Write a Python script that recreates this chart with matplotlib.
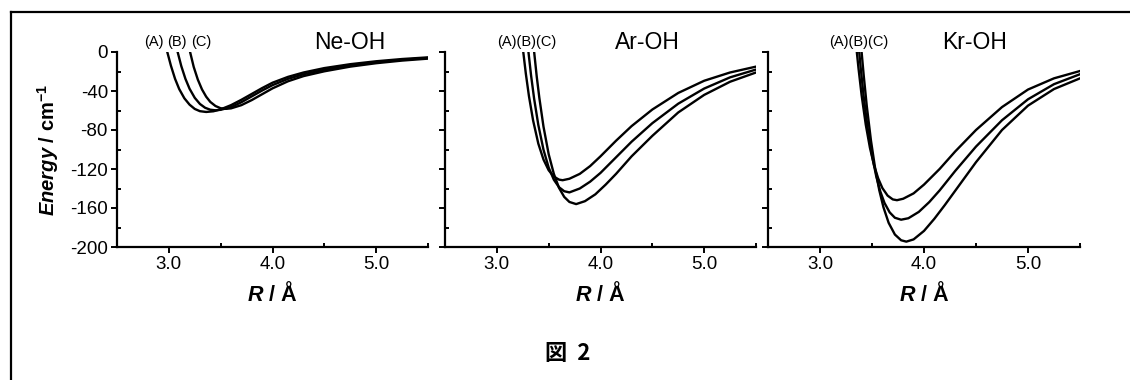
import matplotlib
matplotlib.use('Agg')
import matplotlib.pyplot as plt
from matplotlib.lines import Line2D

plt.rcParams['font.family'] = ['Liberation Sans', 'DejaVu Sans']
plt.rcParams['mathtext.fontset'] = 'custom'
plt.rcParams['mathtext.rm'] = 'Liberation Sans:bold'
plt.rcParams['mathtext.it'] = 'Liberation Sans:italic:bold'
plt.rcParams['mathtext.bf'] = 'Liberation Sans:bold'
plt.rcParams['mathtext.default'] = 'rm'
plt.rcParams['axes.unicode_minus'] = False

# --- Ne-OH : R (Å), Energy (cm-1), curves (A) (B) (C)
ne_A_R = [2.985, 3.02, 3.06, 3.10, 3.15, 3.20, 3.25, 3.30, 3.36, 3.43, 3.50, 3.60, 3.70,
          3.80, 3.90, 4.00, 4.15, 4.30, 4.50, 4.75, 5.00, 5.25, 5.50]
ne_A_E = [0, -14, -27.5, -38, -47.5, -54, -58.4, -60.7, -61.5, -60.8, -58.8, -54.5, -49,
          -43, -37, -31.5, -25.5, -21, -16.5, -12.5, -9.5, -7.2, -5.5]
ne_B_R = [3.085, 3.12, 3.16, 3.20, 3.25, 3.30, 3.35, 3.40, 3.45, 3.50, 3.60, 3.70, 3.80,
          3.90, 4.00, 4.15, 4.30, 4.50, 4.75, 5.00, 5.25, 5.50]
ne_B_E = [0, -14.4, -27.5, -37.7, -47, -53.3, -57.2, -59.2, -59.8, -59.3, -56.5, -51.5, -45.5,
          -39.5, -34, -27.5, -22.8, -18.2, -13.8, -10.5, -8, -6.1]
ne_C_R = [3.205, 3.24, 3.28, 3.32, 3.36, 3.40, 3.45, 3.50, 3.55, 3.60, 3.70, 3.80, 3.90,
          4.00, 4.15, 4.30, 4.50, 4.75, 5.00, 5.25, 5.50]
ne_C_E = [0, -15.3, -28.4, -38.4, -45.8, -51.2, -55.4, -57.7, -58.3, -57.8, -54.5, -49.3, -43.3,
          -37.3, -30, -24.7, -19.8, -15, -11.5, -8.8, -6.8]

# --- Ar-OH
ar_A_R = [3.255, 3.28, 3.31, 3.35, 3.40, 3.45, 3.50, 3.55, 3.60, 3.635, 3.70, 3.80, 3.90,
          4.00, 4.15, 4.30, 4.50, 4.75, 5.00, 5.25, 5.50]
ar_A_E = [0, -22.4, -45.4, -70.3, -93.9, -110.3, -121.3, -127.8, -130.9, -131.5, -130, -125, -117,
          -107, -91, -76, -59, -42, -29.5, -21, -15]
ar_B_R = [3.305, 3.33, 3.36, 3.40, 3.45, 3.50, 3.55, 3.60, 3.65, 3.70, 3.80, 3.90, 4.00,
          4.15, 4.30, 4.50, 4.75, 5.00, 5.25, 5.50]
ar_B_E = [0, -23.8, -48.1, -74.7, -100.2, -118.5, -131, -138.7, -142.8, -144, -140, -133, -124,
          -108, -92, -73, -53, -37.5, -26, -18]
ar_C_R = [3.36, 3.385, 3.41, 3.45, 3.50, 3.55, 3.60, 3.65, 3.70, 3.765, 3.85, 3.95, 4.05,
          4.15, 4.30, 4.50, 4.75, 5.00, 5.25, 5.50]
ar_C_E = [0, -25.3, -47, -76.5, -104.8, -125, -139.4, -148.6, -153.8, -156, -153, -146, -136,
          -125, -107, -86, -62, -44, -30.5, -21]

# --- Kr-OH
kr_A_R = [3.354, 3.37, 3.40, 3.44, 3.48, 3.52, 3.56, 3.60, 3.65, 3.70, 3.74, 3.80, 3.90,
          4.00, 4.15, 4.30, 4.50, 4.75, 5.00, 5.25, 5.50]
kr_A_E = [0, -16.5, -44.2, -74.5, -98.2, -116.3, -129.8, -139.6, -147.3, -151.2, -152, -150.5, -145,
          -136, -120, -102, -80, -56.5, -38.5, -27, -19.5]
kr_B_R = [3.377, 3.39, 3.42, 3.46, 3.50, 3.54, 3.58, 3.62, 3.67, 3.72, 3.78, 3.85, 3.95,
          4.05, 4.15, 4.30, 4.50, 4.75, 5.00, 5.25, 5.50]
kr_B_E = [0, -14.8, -45.7, -79.6, -106.1, -127.1, -143.1, -154.8, -164.5, -170, -172, -170.5, -164,
          -154, -142, -122, -97, -70, -48.5, -33, -22.8]
kr_C_R = [3.40, 3.42, 3.45, 3.49, 3.53, 3.57, 3.61, 3.66, 3.72, 3.78, 3.83, 3.90, 4.00,
          4.10, 4.20, 4.35, 4.50, 4.75, 5.00, 5.25, 5.50]
kr_C_E = [0, -23.7, -55.6, -90.8, -119.2, -141.8, -159.2, -175.2, -187.2, -193.1, -194.5, -192.2, -183.5,
          -171, -157, -135, -113, -80, -55, -38, -27]

titles = ['Ne-OH', 'Ar-OH', 'Kr-OH']
x_major = [3.0, 4.0, 5.0]
x_labels = ['3.0', '4.0', '5.0']
x_minor = [2.5, 3.5, 4.5, 5.5]
y_major = [0, -40, -80, -120, -160, -200]
y_labels = ['0', '-40', '-80', '-120', '-160', '-200']
y_minor = [-20, -60, -100, -140, -180]

panels = [
    [(ne_A_R, ne_A_E), (ne_B_R, ne_B_E), (ne_C_R, ne_C_E)],
    [(ar_A_R, ar_A_E), (ar_B_R, ar_B_E), (ar_C_R, ar_C_E)],
    [(kr_A_R, kr_A_E), (kr_B_R, kr_B_E), (kr_C_R, kr_C_E)],
]

W, H = 1130, 380
fig = plt.figure(figsize=(W / 100, H / 100), dpi=100)

lefts = [117, 445, 768]
widths = [311, 311, 312]
bottom_px, top_px = 247, 52

title_x = [0.749, 0.65, 0.663]

for i, curves in enumerate(panels):
    ax = fig.add_axes([lefts[i] / W, 1 - bottom_px / H, widths[i] / W, (bottom_px - top_px) / H])
    for R, E in curves:
        ax.plot(R, E, color='black', lw=1.7)
    ax.set_xlim(2.5, 5.5)
    ax.set_ylim(-200, 0)
    ax.spines['top'].set_visible(False)
    ax.spines['right'].set_visible(False)
    ax.spines['left'].set_linewidth(1.6)
    ax.spines['bottom'].set_linewidth(1.6)
    ax.set_xticks(x_major)
    ax.set_xticklabels(x_labels)
    ax.set_xticks(x_minor, minor=True)
    ax.set_yticks(y_major)
    ax.set_yticks(y_minor, minor=True)
    if i == 0:
        ax.set_yticklabels(y_labels)
        ax.set_ylabel(r'$\it{Energy}$ / cm$^{-1}$', fontsize=14.5, fontweight='bold')
        ax.yaxis.set_label_coords(-0.18, 0.5)
    else:
        ax.set_yticklabels([])
    ax.tick_params(which='major', direction='out', length=4, width=1.4, labelsize=13.5, pad=2.5)
    ax.tick_params(which='minor', direction='in', length=3, width=1.4)
    ax.set_xlabel(r'$\it{R}$ / Å', fontsize=15.5, fontweight='bold')
    ax.xaxis.set_label_coords(0.5, -0.18)
    ax.xaxis.label.set_va('top')
    ax.text(title_x[i], 1.051, titles[i], transform=ax.transAxes,
            ha='center', va='center', fontsize=16.5)

# curve labels above the repulsive walls
ax0, ax1, ax2 = fig.axes
for lab, r in zip(['(A)', '(B)', '(C)'], [2.854, 3.078, 3.311]):
    ax0.text(r, 10.3, lab, ha='center', va='center', fontsize=10.5, clip_on=False)
ax1.text(3.29, 10.3, '(A)(B)(C)', ha='center', va='center', fontsize=10.5, clip_on=False)
ax2.text(3.377, 10.3, '(A)(B)(C)', ha='center', va='center', fontsize=10.5, clip_on=False)

fig.text(568 / W, 1 - 353 / H, '図  2', ha='center', va='center', fontsize=16,
         fontweight='bold', family=['Noto Sans CJK JP', 'DejaVu Sans'])

# frame of the figure box
fig.add_artist(Line2D([10.5 / W, 10.5 / W], [0, 1 - 12.3 / H], transform=fig.transFigure,
                      color='black', lw=1.6))
fig.add_artist(Line2D([10.5 / W, 1], [1 - 12.3 / H, 1 - 12.3 / H], transform=fig.transFigure,
                      color='black', lw=1.6))

fig.savefig('out.png', dpi=100)
